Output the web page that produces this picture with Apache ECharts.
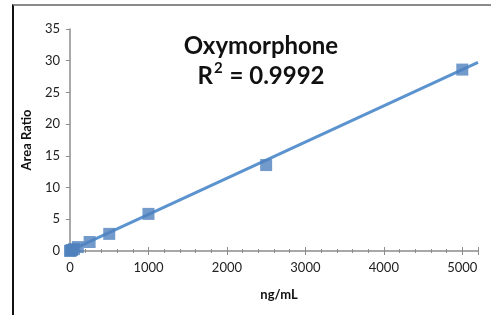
<!DOCTYPE html>
<html>
<head>
<meta charset="utf-8">
<script src="https://cdn.jsdelivr.net/npm/echarts@6/dist/echarts.min.js"></script>
<style>
  html, body { margin: 0; padding: 0; background: #fff; }
  #frame { position: absolute; left: 12px; top: 4px; width: 490px; height: 320px;
           border-top: 2px solid #8a8a8a; border-left: 2px solid #111; }
  #chart { position: absolute; left: 0; top: 0; width: 491px; height: 315px; }
</style>
</head>
<body>
<div id="frame"></div>
<div id="chart"></div>
<script>
// calibration points (ng/mL vs area ratio)
const conc = [0, 10, 25, 50, 100, 250, 500, 1000, 2500, 5000];
const ratio = [0.02, 0.06, 0.15, 0.3, 0.62, 1.42, 2.7, 5.85, 13.55, 28.6];
// linear trendline ends
const trendX = [0, 5200];
const trendY = [0.05, 29.75];

const font = "Lato, 'Open Sans', sans-serif";
const blue = "#4f81bd";
const axisGray = "#8c8c8c";

var myChart = echarts.init(document.getElementById("chart"));
myChart.setOption({
  animation: false,
  grid: { left: 70, right: 13, top: 29, bottom: 64 },
  title: {
    text: "Oxymorphone\n{r|R}{sup|2}{r| = 0.9992}",
    left: 256,
    top: 26,
    textAlign: "center",
    textStyle: {
      fontFamily: font, fontSize: 24, fontWeight: "bold", color: "#111",
      lineHeight: 30,
      rich: {
        r: { fontFamily: font, fontSize: 24, fontWeight: "bold", color: "#111" },
        sup: { fontFamily: font, fontSize: 15, fontWeight: "bold", color: "#111", verticalAlign: "top", padding: [0, 1, 10, 1] }
      }
    }
  },
  xAxis: [
    {
      type: "value",
      min: 0,
      max: 5200,
      interval: 1000,
      name: "ng/mL",
      nameLocation: "middle",
      nameGap: 37,
      nameTextStyle: { fontFamily: font, fontSize: 13, fontWeight: "bold", color: "#111", padding: [0, 0, 0, 10] },
      axisLine: { lineStyle: { color: axisGray, width: 1.5 } },
      axisTick: { show: true, length: 4, lineStyle: { color: axisGray } },
      minorTick: { show: true, splitNumber: 5, length: 2, lineStyle: { color: axisGray } },
      axisLabel: {
        fontFamily: font, fontSize: 13, color: "#222", margin: 10,
        formatter: function (v) { return v % 1000 === 0 && v <= 5000 ? String(v) : ""; }
      },
      splitLine: { show: false }
    },
    {
      // second copy of the x scale, moved onto the bottom edge so ticks cross the axis line
      type: "value",
      position: "top",
      offset: -222,
      min: 0,
      max: 5200,
      interval: 1000,
      axisLine: { show: false },
      axisTick: { show: true, length: 4, lineStyle: { color: axisGray } },
      minorTick: { show: true, splitNumber: 5, length: 2, lineStyle: { color: axisGray } },
      axisLabel: { show: false },
      splitLine: { show: false }
    }
  ],
  yAxis: {
    type: "value",
    min: 0,
    max: 35,
    interval: 5,
    name: "Area Ratio",
    nameLocation: "middle",
    nameGap: 37,
    nameTextStyle: { fontFamily: font, fontSize: 13, fontWeight: "bold", color: "#111" },
    axisLine: { show: true, lineStyle: { color: axisGray, width: 1.5 } },
    axisTick: { show: true, length: 4, lineStyle: { color: axisGray } },
    axisLabel: { fontFamily: font, fontSize: 13, color: "#222", margin: 10 },
    splitLine: { show: false }
  },
  series: [
    {
      type: "line",
      data: trendX.map(function (x, i) { return [x, trendY[i]]; }),
      showSymbol: false,
      lineStyle: { color: "#5b93cf", width: 3 },
      z: 2
    },
    {
      type: "scatter",
      data: conc.map(function (x, i) { return [x, ratio[i]]; }),
      symbol: "rect",
      symbolSize: 12,
      itemStyle: { color: blue },
      z: 3
    }
  ]
});
</script>
</body>
</html>
